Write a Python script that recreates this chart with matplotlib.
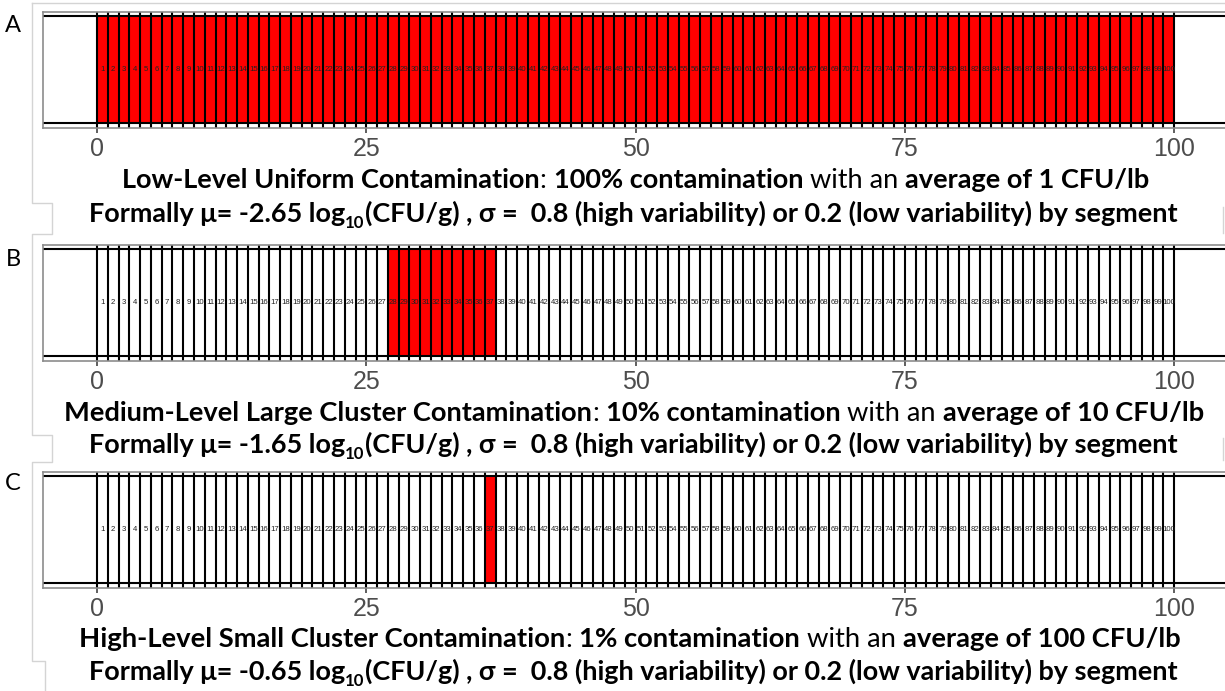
import matplotlib
matplotlib.use("Agg")
import matplotlib.pyplot as plt
from matplotlib.lines import Line2D

W, H = 1225, 691

# segments of the product lot, and which ones are contaminated in each scenario
segments = list(range(1, 101))
red_A = list(range(1, 101))
red_B = [28, 29, 30, 31, 32, 33, 34, 35, 36, 37]
red_C = [37]
xticks = [0, 25, 50, 75, 100]
letters = ["A", "B", "C"]

cap_A1 = [("Low-Level Uniform Contamination", "bold", False), (": ", "normal", False),
          ("100% contamination", "bold", False), (" with an ", "normal", False),
          ("average of 1 CFU/lb", "bold", False)]
cap_A2 = [("Formally \u03bc= -2.65 log", "bold", False), ("10", "bold", True),
          ("(CFU/g) , \u03c3 =  0.8 (high variability) or 0.2 (low variability) by segment", "bold", False)]
cap_B1 = [("Medium-Level Large Cluster Contamination", "bold", False), (": ", "normal", False),
          ("10% contamination", "bold", False), (" with an ", "normal", False),
          ("average of 10 CFU/lb", "bold", False)]
cap_B2 = [("Formally \u03bc= -1.65 log", "bold", False), ("10", "bold", True),
          ("(CFU/g) , \u03c3 =  0.8 (high variability) or 0.2 (low variability) by segment", "bold", False)]
cap_C1 = [("High-Level Small Cluster Contamination", "bold", False), (": ", "normal", False),
          ("1% contamination", "bold", False), (" with an ", "normal", False),
          ("average of 100 CFU/lb", "bold", False)]
cap_C2 = [("Formally \u03bc= -0.65 log", "bold", False), ("10", "bold", True),
          ("(CFU/g) , \u03c3 =  0.8 (high variability) or 0.2 (low variability) by segment", "bold", False)]

CAP_FONT = ["Lato", "Open Sans", "DejaVu Sans"]

fig = plt.figure(figsize=(W / 100, H / 100), dpi=100)
renderer = fig.canvas.get_renderer()


def fx(x):
    return x / W


def fy(y):
    return 1 - y / H


def ink(s, weight, size):
    t = fig.text(0, 0, s, fontsize=size, fontweight=weight, family=CAP_FONT)
    w = t.get_window_extent(renderer).width
    t.remove()
    return w


def adv(s, weight, size):
    return ink("|" + s + "|", weight, size) - ink("||", weight, size)


def draw_caption(pieces, x0, x1, base):
    def total(fs):
        tot = 0
        for s, wt, sub in pieces:
            tot += adv(s, wt, fs * (0.62 if sub else 1))
        return tot
    fs = 17 * (x1 - x0) / total(17)
    x = x0
    for s, wt, sub in pieces:
        size = fs * (0.62 if sub else 1)
        sp = adv(" ", wt, size)
        lead = len(s) - len(s.lstrip(" "))
        trail = len(s) - len(s.rstrip(" "))
        core = s.strip(" ")
        x += lead * sp
        y = base + (0.22 * fs * 100 / 72 if sub else 0)
        fig.text(fx(x), fy(y), core, fontsize=size, fontweight=wt, family=CAP_FONT,
                 ha="left", va="baseline", color="black")
        x += adv(core, wt, size) + trail * sp


# light gray frames of the pasted panels
frame_col = "#d4d4d4"
fig.add_artist(Line2D([fx(32), fx(1225)], [fy(3), fy(3)], color=frame_col, lw=1,
                      transform=fig.transFigure))
px = [32, 32, 52, 52, 32, 32, 52, 52, 32, 32, 45, 45]
py = [3, 203, 203, 234, 234, 435, 435, 462, 462, 661, 661, 691]
fig.add_artist(Line2D([fx(v) for v in px], [fy(v) for v in py], color=frame_col, lw=1,
                      transform=fig.transFigure))
for a, b in [(207, 233), (438, 460)]:
    fig.add_artist(Line2D([fx(1223), fx(1223)], [fy(a), fy(b)], color=frame_col, lw=1,
                          transform=fig.transFigure))

tops = [12, 245, 472]
reds = [red_A, red_B, red_C]
letter_dy = [13, 15, 12]
ymin, ymax = -0.045, 1.042
left_px, right_px = 43.2, 1228.0

for i in range(3):
    top = tops[i]
    h = 116
    ax = fig.add_axes([fx(left_px), fy(top + h), (right_px - left_px) / W, h / H])
    ax.set_xlim(-5, 105)
    ax.set_ylim(ymin, ymax)
    ax.set_facecolor("white")
    for sp in ax.spines.values():
        sp.set_color("#8c8c8c")
        sp.set_linewidth(1.2)
    ax.bar([s - 0.5 for s in reds[i]], [1] * len(reds[i]), width=1, bottom=0,
           color="#ff0000", edgecolor="none", zorder=1)
    edges = [s - 1 for s in segments] + [segments[-1]]
    ax.vlines(edges, ymin, ymax, color="black", lw=1.5, zorder=2)
    ax.axhline(0, color="black", lw=1.5, zorder=2)
    ax.axhline(1, color="black", lw=1.5, zorder=2)
    for s in segments:
        ax.text(s - 0.5, 0.5, str(s), ha="center", va="center", fontsize=5.6,
                color="#222222", family="Liberation Sans", zorder=3)
    ax.set_yticks([])
    ax.set_xticks(xticks)
    ax.set_xticklabels([str(t) for t in xticks], family="Liberation Sans",
                       fontsize=18, color="#4d4d4d")
    ax.tick_params(axis="x", length=3.5, width=1.1, color="#333333", pad=3)
    fig.text(fx(13), fy(top + letter_dy[i]), letters[i], fontsize=17, family=CAP_FONT,
             ha="center", va="center", color="black")

draw_caption(cap_A1, 122, 1152, 188)
draw_caption(cap_A2, 89, 1183, 222)
draw_caption(cap_B1, 64, 1210, 421)
draw_caption(cap_B2, 89, 1183, 453)
draw_caption(cap_C1, 79, 1185, 647)
draw_caption(cap_C2, 89, 1183, 680)

fig.savefig("out.png", dpi=100)
